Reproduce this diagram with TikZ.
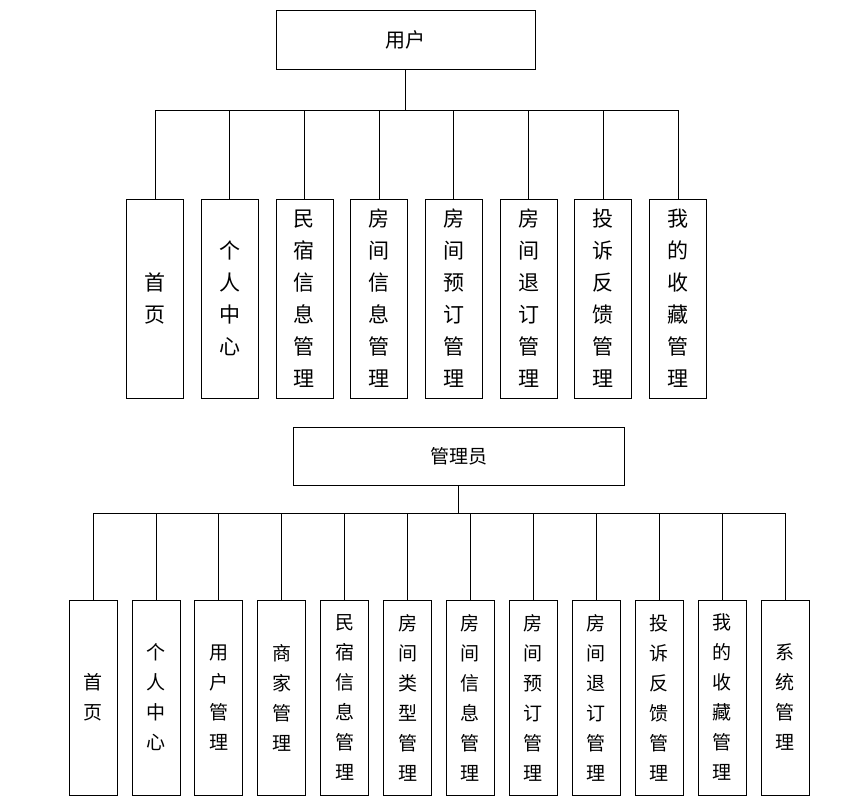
\documentclass[tikz,border=0pt]{standalone}
\usepackage{fontspec}
\setmainfont{Noto Sans CJK SC}
\begin{document}
\begin{tikzpicture}[x=1pt,y=-1pt,
  box/.style={draw,line width=0.8pt,align=center,inner sep=0pt},
  ln/.style={line width=0.8pt}]
\useasboundingbox (0,0) rectangle (866,808);
\node[box,minimum width=259pt,minimum height=59pt,font=\fontsize{20}{24}\selectfont] (u) at (405.5,39.5) {用户};
\def\topx{155,230,305,379,454,528,603,678}
\foreach \t [count=\i] in {首\\页,个\\人\\中\\心,民\\宿\\信\\息\\管\\理,房\\间\\信\\息\\管\\理,房\\间\\预\\订\\管\\理,房\\间\\退\\订\\管\\理,投\\诉\\反\\馈\\管\\理,我\\的\\收\\藏\\管\\理}{
  \pgfmathsetmacro\xx{155+74.7*(\i-1)}
  \node[box,minimum width=57pt,minimum height=199pt,font=\fontsize{21}{32}\selectfont] (t\i) at (\xx,298.5) {\t};
  \draw[ln] (t\i.north) -- (\xx,110);
}
\draw[ln] (u.south) -- (405.5,110);
\draw[ln] (t1.north |- 0,110) -- (t8.north |- 0,110);
\node[box,minimum width=331pt,minimum height=58pt,font=\fontsize{19}{24}\selectfont] (a) at (458.5,456) {管理员};
\foreach \t [count=\i] in {首\\页,个\\人\\中\\心,用\\户\\管\\理,商\\家\\管\\理,民\\宿\\信\\息\\管\\理,房\\间\\类\\型\\管\\理,房\\间\\信\\息\\管\\理,房\\间\\预\\订\\管\\理,房\\间\\退\\订\\管\\理,投\\诉\\反\\馈\\管\\理,我\\的\\收\\藏\\管\\理,系\\统\\管\\理}{
  \pgfmathsetmacro\xx{93+62.9*(\i-1)}
  \node[box,minimum width=48pt,minimum height=195pt,font=\fontsize{19}{30}\selectfont] (b\i) at (\xx,697.5) {\t};
  \draw[ln] (b\i.north) -- (\xx,513);
}
\draw[ln] (a.south) -- (458.5,513);
\draw[ln] (b1.north |- 0,513) -- (b12.north |- 0,513);
\end{tikzpicture}
\end{document}
